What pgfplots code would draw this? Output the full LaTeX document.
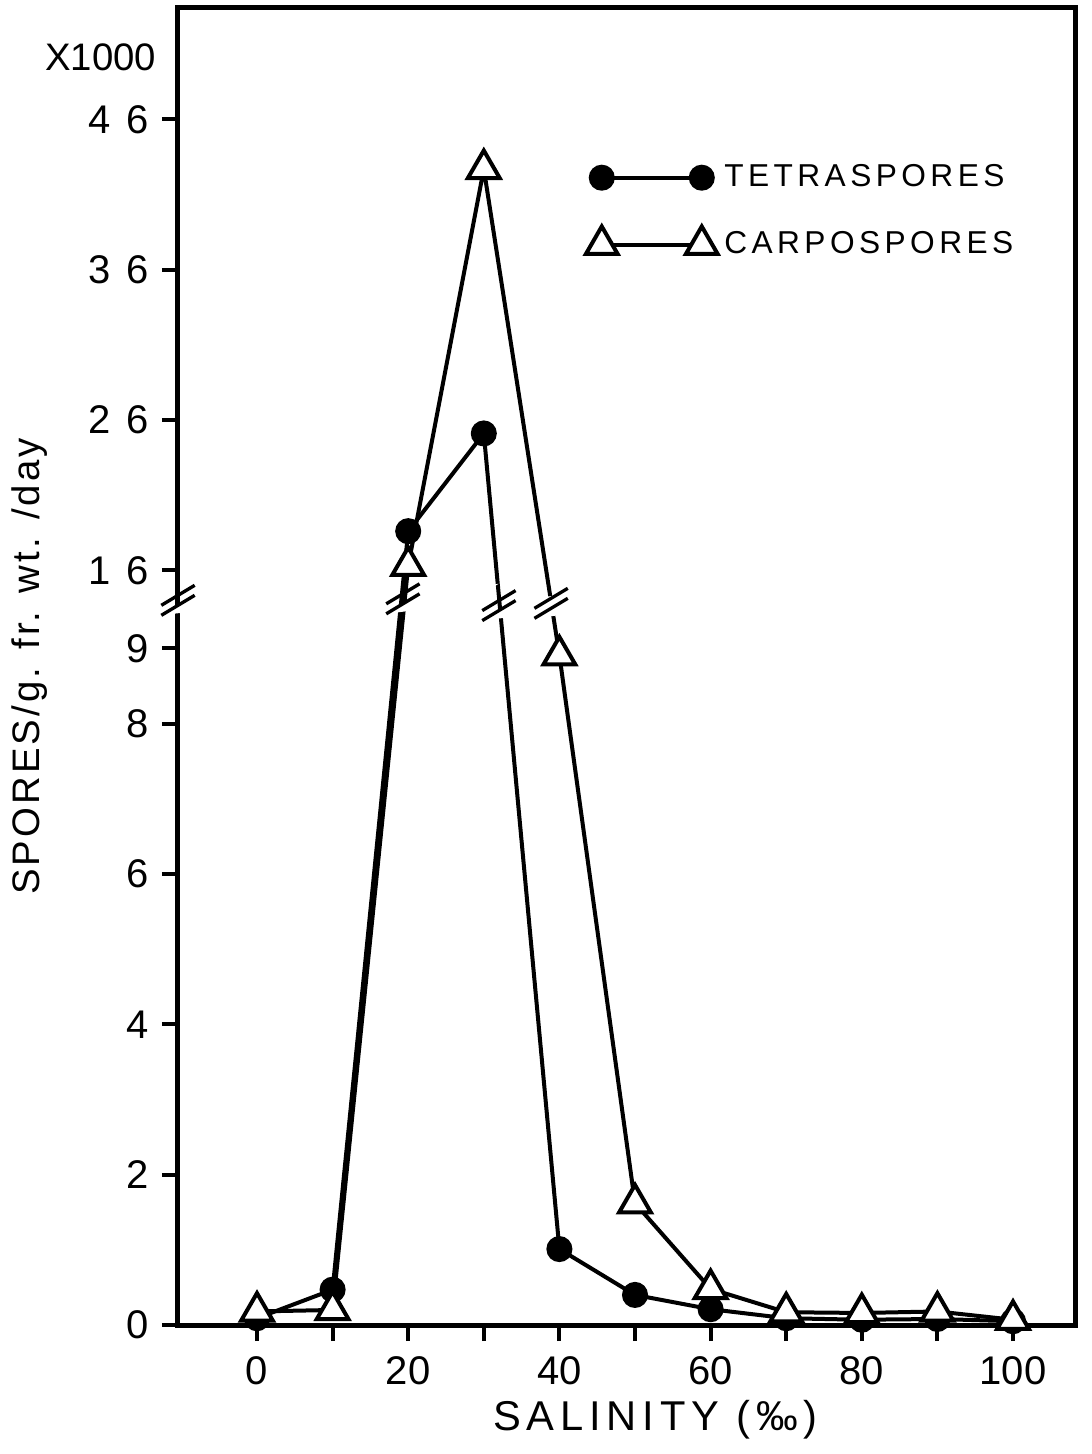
\documentclass[border=0pt]{standalone}
\usepackage{pgfplots}
\pgfplotsset{compat=1.18}
\usepackage{fontspec}
\setmainfont{Liberation Sans}
\newfontfamily\tickfont[LetterSpace=40]{Liberation Sans}
\newfontfamily\labfont[LetterSpace=14]{Liberation Sans}
\newfontfamily\ylabfont[LetterSpace=8]{Liberation Sans}
\newcommand{\brk}[2]{%
  \fill[white] ([shift={(-5pt,-4.5pt)}]axis cs:#1,#2) -- ++(10pt,6pt) -- ++(0,3pt) -- ++(-10pt,-6pt) -- cycle;
  \draw[line width=1pt] ([shift={(-5pt,-4.5pt)}]axis cs:#1,#2) -- ++(10pt,6pt);
  \draw[line width=1pt] ([shift={(-5pt,-1.5pt)}]axis cs:#1,#2) -- ++(10pt,6pt);}
\begin{document}
\begin{tikzpicture}
\begin{axis}[
  name=ax,
  scale only axis,
  width=269.1pt, height=395.1pt,
  xmin=-10.45, xmax=108.2,
  ymin=0, ymax=53.4,
  y coord trafo/.code={\pgfmathparse{(#1>12) ? (10.04+(#1-16)*0.2) : #1}},
  clip=false,
  axis line style={line width=1.5pt},
  tick style={line width=1.2pt, black},
  tick pos=left,
  tick align=outside,
  major tick length=4.8pt,
  xtick={0,10,20,30,40,50,60,70,80,90,100},
  xticklabels={0,,20,,40,,60,,80,,100},
  ytick={0,2,4,6,8,9,16,26,36,46},
  yticklabels={0,2,4,6,8,9,16,26,36,46},
  x tick label style={font=\fontsize{12}{13}\selectfont, yshift=-1pt},
  y tick label style={font=\tickfont\fontsize{12}{13}\selectfont, xshift=-0.5pt},
  every axis plot/.append style={line width=1.2pt, black},
  legend style={at={(rel axis cs:0.454,0.887)}, anchor=north west, draw=none, fill=none,
    inner sep=0pt, row sep=8pt, font=\labfont\fontsize{9.5}{11}\selectfont,
    /tikz/every even column/.append style={column sep=2pt}},
  legend cell align=left,
  legend image code/.code={%
    \draw[#1,mark=none] (0pt,0pt) -- (30pt,0pt);
    \draw[#1,only marks] plot coordinates {(0pt,0pt) (30pt,0pt)};},
]
% Tetraspores (x1000 spores / g fr. wt. / day)
\addplot[mark=*, mark size=3.3pt, mark options={fill=black, solid}] coordinates {
  (0,0.09) (10,0.47) (20,18.6) (30,25.1) (40,1.01) (50,0.40) (60,0.21)
  (70,0.09) (80,0.07) (90,0.08) (100,0.05)};
\addlegendentry{TETRASPORES}
% Carpospores
\addplot[mark=triangle*, mark size=5.5pt, mark options={fill=white, solid}] coordinates {
  (0,0.18) (10,0.20) (20,16.3) (30,42.7) (40,8.91) (50,1.62) (60,0.48)
  (70,0.17) (80,0.16) (90,0.18) (100,0.07)};
\addlegendentry{CARPOSPORES}
\brk{-10.45}{9.64}
\brk{19.3}{9.66}
\brk{32.0}{9.57}
\brk{38.9}{9.6}
\end{axis}
\node[anchor=east, font=\fontsize{11.5}{13}\selectfont] at ([shift={(-3pt,-14.7pt)}]ax.north west) {X1000};
\node[rotate=90, font=\ylabfont\fontsize{11.5}{13}\selectfont] at ([xshift=-44.4pt]ax.west) {SPORES/g. fr. wt. /day};
\node[font=\labfont\fontsize{12.5}{14}\selectfont] at ([shift={(8.7pt,-28.5pt)}]ax.south) {SALINITY (‰)};
\pgfresetboundingbox
\path ([shift={(-53.4pt,-38.7pt)}]ax.south west) rectangle ([shift={(4.8pt,2.4pt)}]ax.north east);
\end{tikzpicture}
\end{document}
